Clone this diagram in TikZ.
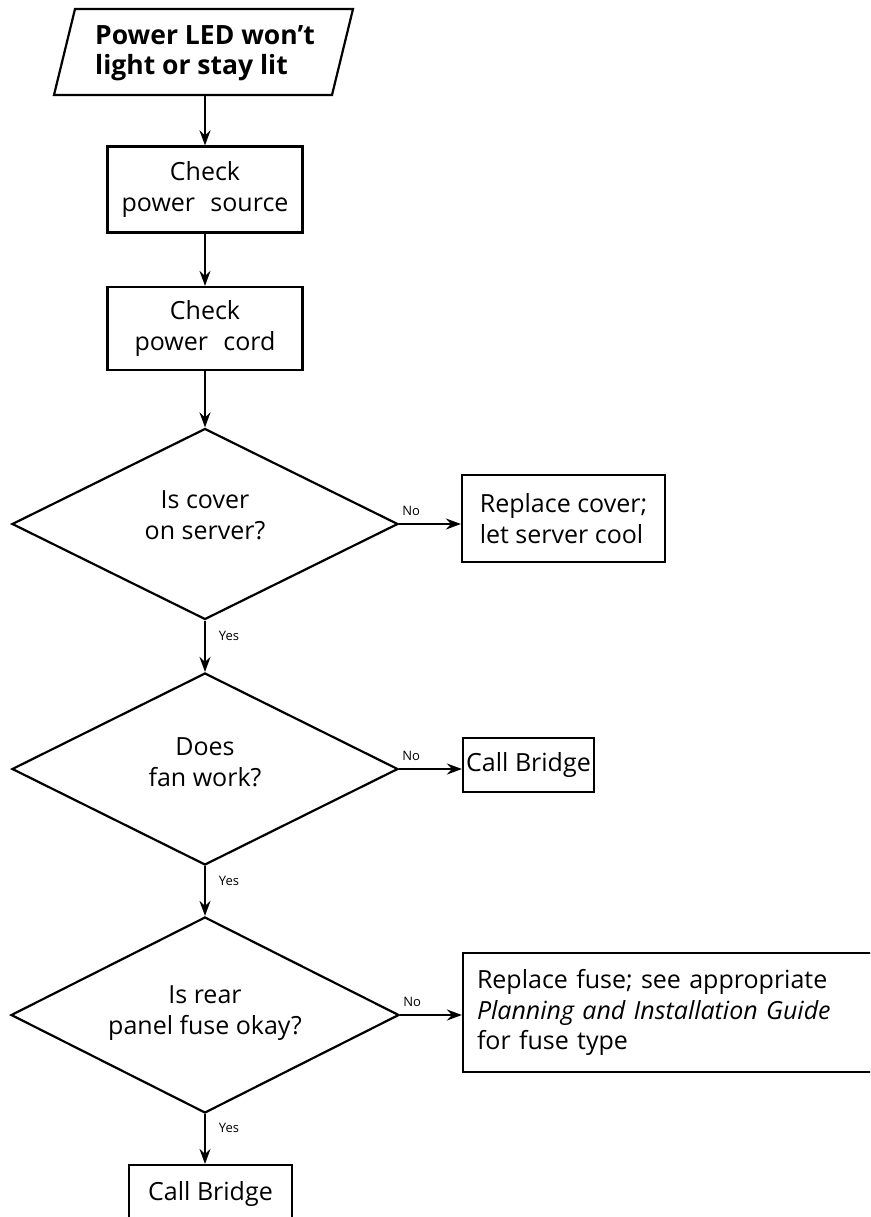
\documentclass[tikz,border=0pt]{standalone}
\usepackage{fontspec}
\setmainfont{Open Sans}
\usetikzlibrary{arrows.meta,calc,shapes.geometric}

\newcommand{\bodysize}{\fontsize{25}{30.5}\selectfont}
\newcommand{\headsize}{\fontsize{26.5}{30}\selectfont}
\newcommand{\tagsize}{\fontsize{13}{15}\selectfont}

\begin{document}
\begin{tikzpicture}[x=1pt,y=-1pt,
  outline/.style={line width=2.2pt},
  stepbox/.style={draw, outline, rectangle, inner sep=0pt, align=center, font=\bodysize},
  decision/.style={draw, outline, diamond, inner sep=0pt},
  question/.style={align=center, font=\bodysize, inner sep=0pt},
  flow/.style={outline, -{Stealth[length=15pt,width=11pt,inset=5pt]}},
  tag/.style={font=\tagsize, inner sep=0pt},
]
\useasboundingbox (0,0) rectangle (870,1217);
\clip (0,0) rectangle (870,1217);

% start symbol: parallelogram with its text
\node[font=\headsize\bfseries, align=left, inner sep=0pt, minimum height=86pt] (start) at (205,53)
  {Power LED won’t\\light or stay lit};
\draw[outline, line join=miter] (75,9) -- (353,9) -- (332,95) -- (54,95) -- cycle;

% main column
\node[stepbox, minimum width=195pt, minimum height=86pt] (check1) at (205,189.5)
  {Check\\power\hspace{0.35em} source};
\node[stepbox, minimum width=195pt, minimum height=83pt] (check2) at (205,328.5)
  {Check\\power\hspace{0.35em} cord};

\node[decision, minimum width=386pt, minimum height=191pt] (d1) at (205,524) {};
\node[question] (q1) at (205,515) {Is cover\\on server?};
\node[decision, minimum width=386pt, minimum height=192pt] (d2) at (205,769) {};
\node[question] (q2) at (205,762) {Does\\fan work?};
\node[decision, minimum width=388pt, minimum height=196pt] (d3) at (205,1015) {};
\node[question] (q3) at (205,1013) {Is rear\\panel fuse okay?};

\node[stepbox, minimum width=163pt, minimum height=58pt] (bridge2) at (210.5,1194) {Call Bridge};

% outcomes on the right
\node[stepbox, align=left, minimum width=203pt, minimum height=87pt] (cover) at (563.5,518.5)
  {Replace cover;\\let server cool};
\node[stepbox, minimum width=131pt, minimum height=54pt] (bridge1) at (528.5,765) {Call Bridge};
\node[stepbox, align=left, text width=389pt, inner xsep=14pt, minimum height=119pt] (fuse) at (671.5,1012.5)
  {Replace fuse; see appropriate\\\textit{Planning and Installation Guide}\\for fuse type};

% connectors
\draw[flow] (start.south) -- (start.south |- check1.north);
\draw[flow] (check1.south) -- (check2.north);
\draw[flow] (check2.south) -- (d1.north);
\draw[flow] (d1.south) -- (d2.north);
\draw[flow] (d2.south) -- (d3.north);
\draw[flow] (d3.south) -- (d3.south |- bridge2.north);
\draw[flow] (d1.east) -- (d1.east -| cover.west);
\draw[flow] (d2.east) -- (d2.east -| bridge1.west);
\draw[flow] (d3.east) -- (d3.east -| fuse.west);

% branch labels
\node[tag] (y1) at ($(d1.south)+(24,15)$) {Yes};
\node[tag] (y2) at ($(d2.south)+(24,15)$) {Yes};
\node[tag] (y3) at ($(d3.south)+(24,14)$) {Yes};
\node[tag] (n1) at ($(d1.east)+(12,-13)$) {No};
\node[tag] (n2) at ($(d2.east)+(12,-13)$) {No};
\node[tag] (n3) at ($(d3.east)+(12,-13)$) {No};
\end{tikzpicture}
\end{document}
